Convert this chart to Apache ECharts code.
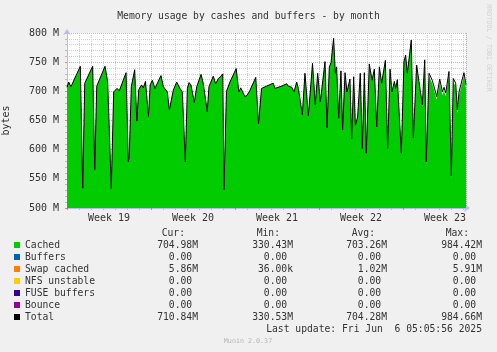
<!DOCTYPE html>
<html><head><meta charset="utf-8">
<script src="https://cdn.jsdelivr.net/npm/echarts@6/dist/echarts.min.js"></script>
<style>html,body{margin:0;padding:0;background:#F0F0F0}#c{width:497px;height:352px}</style>
</head><body><div id="c"></div>
<script>
const FONT = 'DejaVu Sans Mono';
const seriesNames = ['Cached', 'Buffers', 'Swap cached', 'NFS unstable', 'FUSE buffers', 'Bounce', 'Total'];
const seriesColors = ['#00CC00', '#0066B3', '#FF8000', '#FFCC00', '#330099', '#990099', '#000000'];

// time in days since Monday of week 19
const times = [
  0, 0.14, 0.33, 1.11, 1.31, 1.48, 2.14, 2.31, 2.48, 3.17,
  3.39, 3.53, 3.69, 3.89, 4.17, 4.36, 4.92, 5.11, 5.19, 5.36,
  5.64, 5.82, 5.98, 6.21, 6.36, 6.54, 6.65, 6.79, 6.93, 7.11,
  7.33, 7.83, 8.03, 8.17, 8.36, 8.53, 8.67, 8.86, 9.14, 9.28,
  9.42, 9.61, 9.69, 9.86, 10.03, 10.17, 10.33, 10.46, 10.61, 10.81,
  11.17, 11.36, 11.5, 11.69, 11.83, 12.19, 12.39, 12.61, 12.78, 12.98,
  13.08, 13.29, 13.58, 14.1, 14.32, 14.48, 14.82, 15, 15.23, 15.73,
  15.96, 16.21, 16.64, 17.19, 17.33, 17.89, 18.31, 18.44, 18.73, 18.92,
  19.14, 19.28, 19.61, 19.83, 20.11, 20.46, 20.69, 20.89, 21.11, 21.22,
  21.5, 21.67, 21.86, 22, 22.22, 22.36, 22.47, 22.64, 22.83, 22.97,
  23.17, 23.33, 23.44, 23.58, 23.72, 23.89, 24.03, 24.22, 24.44, 24.61,
  24.78, 24.94, 25.19, 25.42, 25.61, 25.81, 26.03, 26.22, 26.53, 26.72,
  26.92, 27.08, 27.28, 27.39, 27.53, 27.86, 28.08, 28.22, 28.36, 28.69,
  28.86, 29.14, 29.33, 29.61, 29.81, 29.94, 30.17, 30.44, 30.81, 31.06,
  31.28, 31.42, 31.56, 31.83, 32.03, 32.19, 32.39, 32.53, 32.67, 33.08,
  33.25
];
// Total (MB)
const total = [
  707, 716, 708, 743, 534, 714, 743, 566, 709, 743,
  716, 713, 533, 699, 705, 701, 732, 579, 590, 708,
  737, 649, 703, 711, 706, 717, 716, 657, 711, 719,
  705, 727, 708, 709, 699, 668, 668, 702, 716, 713,
  705, 699, 696, 579, 705, 715, 711, 713, 681, 708,
  729, 713, 711, 665, 708, 726, 713, 722, 725, 730,
  531, 700, 716, 739, 699, 706, 691, 693, 701, 724,
  644, 705, 709, 714, 705, 709, 713, 709, 707, 699,
  716, 705, 660, 731, 658, 748, 677, 731, 682, 684,
  751, 638, 742, 749, 791, 731, 742, 654, 735, 634,
  732, 699, 699, 721, 618, 725, 642, 656, 731, 602,
  732, 594, 747, 719, 738, 639, 742, 714, 753, 602,
  738, 699, 717, 705, 720, 594, 751, 762, 731, 788,
  620, 745, 717, 677, 754, 579, 731, 719, 691, 721,
  699, 707, 697, 734, 555, 722, 714, 668, 699, 732,
  711
];
// Swap cached (MB)
const swap = [
  0,0,0,0,0,0,0,0,0,0,0,0,0,0,0,0,0,0,0,0,
  0,0,0,0,0,0,0,0,0,0,0,0,0,0,0,0,0,0,0,0,
  0,0,0,0,0,0,0,0,0,0,0,0,0,0,0,0,0,0,0,0,
  0,0,0,0,0,0,0,0,0,0,0,0,0,0,0,0,0,0,0,0,
  0,0,0,0,0,0,0,0,0,0,0,0,0,0,0,0,0,0,0,0,
  0,0,0,0,0,0,0,0,0,0,0,0,0,0,0,0,0,0,0,0,
  0,0,0,0,0,0,0,0,0,0,0,
  1.5, 2.5, 3.5, 4.2, 4.5, 5.2, 5.5, 5.6, 5.7, 5.8,
  5.8, 5.8, 5.9, 5.5, 5.9, 5.9, 5.9, 5.9, 5.9, 5.86
];

const weekTickDays = [3.5, 10.5, 17.5, 24.5, 31.5];
const weekLabels = ['Week 19', 'Week 20', 'Week 21', 'Week 22', 'Week 23'];

const statHeaders = ['Cur:', 'Min:', 'Avg:', 'Max:'];
const statCur = ['704.98M', '0.00', '5.86M', '0.00', '0.00', '0.00', '710.84M'];
const statMin = ['330.43M', '0.00', '36.00k', '0.00', '0.00', '0.00', '330.53M'];
const statAvg = ['703.26M', '0.00', '1.02M', '0.00', '0.00', '0.00', '704.28M'];
const statMax = ['984.42M', '0.00', '5.91M', '0.00', '0.00', '0.00', '984.66M'];
const lastUpdate = 'Last update: Fri Jun  6 05:05:56 2025';

const cachedData = times.map((t, i) => [t, total[i] - swap[i]]);
const swapData = times.map((t, i) => [t, swap[i]]);
const totalData = times.map((t, i) => [t, total[i]]);

const colRight = [198, 293, 387, 482];
const headRight = [185, 280, 375, 469];
const columns = [statCur, statMin, statAvg, statMax];
const graphics = [];
statHeaders.forEach((h, c) => {
  graphics.push({type: 'text', x: headRight[c], y: 233, style: {text: h, font: '9.7px ' + FONT, fill: '#333', textAlign: 'right', textVerticalAlign: 'middle'}});
});
columns.forEach((col, c) => {
  col.forEach((v, r) => {
    const s = /[0-9]$/.test(v) ? v + ' ' : v;
    graphics.push({type: 'text', x: colRight[c], y: 245 + 12 * r, style: {text: s, font: '9.7px ' + FONT, fill: '#333', textAlign: 'right', textVerticalAlign: 'middle'}});
  });
});
graphics.push({type: 'text', x: 482, y: 329, style: {text: lastUpdate, font: '9.7px ' + FONT, fill: '#333', textAlign: 'right', textVerticalAlign: 'middle'}});
graphics.push({type: 'text', x: 248, y: 341, style: {text: 'Munin 2.0.37', font: '6.7px ' + FONT, fill: '#b4b4b4', textAlign: 'center', textVerticalAlign: 'middle'}});
graphics.push({type: 'text', x: 489, y: 48, rotation: -Math.PI / 2, style: {text: 'RRDTOOL / TOBI OETIKER', font: '6.6px ' + FONT, fill: '#d0d0d0', textAlign: 'center', textVerticalAlign: 'middle'}});

const majorGrid = {show: true, lineStyle: {color: 'rgba(235,80,80,0.55)', type: [1, 1], width: 1}};
const minorGrid = {show: true, lineStyle: {color: '#cfcfcf', type: [1, 1], width: 1}};
const axisLine = {show: true, symbol: ['none', 'arrow'], symbolSize: [6, 6], symbolOffset: [0, 4], lineStyle: {color: '#b8bcee', width: 1}};

const chart = echarts.init(document.getElementById('c'), null, {renderer: 'canvas'});
chart.setOption({
  backgroundColor: '#F0F0F0',
  animation: false,
  title: {text: 'Memory usage by cashes and buffers - by month', left: 'center', top: 6,
    textStyle: {fontFamily: FONT, fontSize: 9.7, fontWeight: 'normal', color: '#333'}},
  grid: {left: 67, top: 33, width: 399, height: 175, show: true, backgroundColor: '#ffffff', borderWidth: 0,
    containLabel: false, outerBoundsMode: 'none'},
  legend: {orient: 'vertical', left: 14, top: 239, padding: 0, itemWidth: 6, itemHeight: 6, itemGap: 0,
    icon: 'rect', selectedMode: false, data: seriesNames,
    textStyle: {fontFamily: FONT, fontSize: 9.7, color: '#333', lineHeight: 12}},
  xAxis: {type: 'value', min: 0, max: 33.25, interval: 7,
    axisLine: axisLine,
    axisTick: {show: true, length: 2, lineStyle: {color: 'rgba(235,80,80,0.7)'}},
    minorTick: {show: true, splitNumber: 7, length: 2, lineStyle: {color: '#bbb'}},
    splitLine: majorGrid, minorSplitLine: minorGrid,
    axisLabel: {customValues: weekTickDays, margin: 5, fontFamily: FONT, fontSize: 10, color: '#333',
      formatter: v => weekLabels[weekTickDays.indexOf(v)] || ''}},
  yAxis: {type: 'value', min: 500, max: 800, interval: 50,
    name: 'bytes', nameLocation: 'middle', nameGap: 56, nameRotate: 90,
    nameTextStyle: {fontFamily: FONT, fontSize: 10, color: '#333'},
    axisLine: axisLine,
    axisTick: {show: true, length: 2, lineStyle: {color: 'rgba(235,80,80,0.7)'}},
    minorTick: {show: true, splitNumber: 5, length: 2, lineStyle: {color: '#bbb'}},
    splitLine: majorGrid, minorSplitLine: minorGrid,
    axisLabel: {margin: 8, fontFamily: FONT, fontSize: 10, color: '#333', formatter: v => v + ' M'}},
  graphic: graphics,
  series: [
    {name: 'Cached', type: 'line', stack: 'mem', data: cachedData, showSymbol: false, color: seriesColors[0],
      lineStyle: {width: 0}, areaStyle: {color: seriesColors[0], opacity: 1}, z: 2},
    {name: 'Buffers', type: 'line', data: [], color: seriesColors[1]},
    {name: 'Swap cached', type: 'line', stack: 'mem', data: swapData, showSymbol: false, color: seriesColors[2],
      lineStyle: {width: 0}, areaStyle: {color: seriesColors[2], opacity: 1}, z: 2},
    {name: 'NFS unstable', type: 'line', data: [], color: seriesColors[3]},
    {name: 'FUSE buffers', type: 'line', data: [], color: seriesColors[4]},
    {name: 'Bounce', type: 'line', data: [], color: seriesColors[5]},
    {name: 'Total', type: 'line', data: totalData, showSymbol: false, color: seriesColors[6],
      lineStyle: {width: 1, color: '#000'}, z: 3}
  ]
});
</script>
</body></html>
